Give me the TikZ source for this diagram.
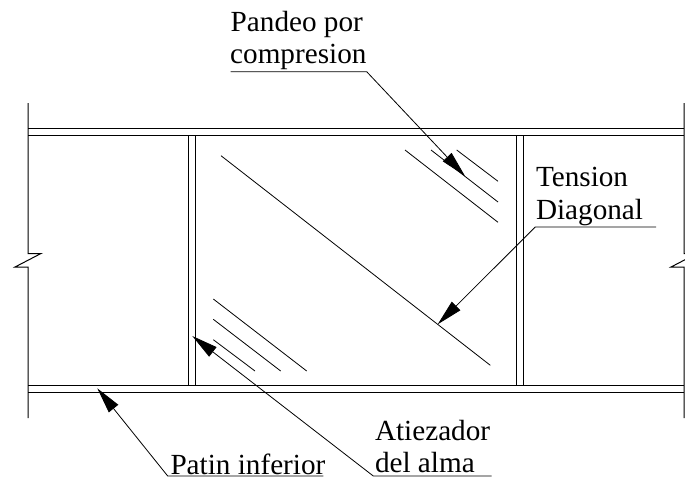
\documentclass[tikz,border=0pt]{standalone}
\usepackage{fontspec}
\setmainfont{Liberation Serif}
\usetikzlibrary{arrows.meta}
\tikzset{
  ln/.style={line width=1pt,black},
  thin ln/.style={line width=0.8pt,black},
  leader/.style={line width=0.8pt,black,-{Triangle[length=26pt,width=12pt]}},
  lbl/.style={anchor=base west,inner sep=0pt,outer sep=0pt,font=\fontsize{29.2}{33}\selectfont,align=left,text=black},
}
\begin{document}
\begin{tikzpicture}[x=1pt,y=-1pt]
\useasboundingbox (0,0) rectangle (685,477);
% outer edges with break marks
\draw[ln] (28,103) -- (28,253.5) -- (41,253.5) -- (15,267) -- (28,267) -- (28,418);
\begin{scope}
\clip (0,0) rectangle (685,477);
\draw[ln] (684,103) -- (684,253.5) -- (697,253.5) -- (671,267) -- (684,267) -- (684,418);
\end{scope}
% flanges
\draw[ln] (28,128.5) -- (684,128.5);
\draw[ln] (28,135.5) -- (684,135.5);
\draw[ln] (28,385.5) -- (684,385.5);
\draw[ln] (28,392.5) -- (684,392.5);
% stiffeners
\draw[ln] (188.5,135.5) -- (188.5,385.5);
\draw[ln] (195.3,135.5) -- (195.3,385.5);
\draw[ln] (516.5,135.5) -- (516.5,385.5);
\draw[ln] (523.3,135.5) -- (523.3,385.5);
% diagonal fold lines
\draw[thin ln] (221,155.7) -- (490.3,365.3);
\draw[thin ln] (405,150) -- (498,222.3);
\draw[thin ln] (431,150) -- (498,202);
\draw[thin ln] (456.7,150) -- (498,181.3);
\draw[thin ln] (213.3,299) -- (306.7,371);
\draw[thin ln] (213.3,319.3) -- (280.7,371);
\draw[thin ln] (213.3,339.7) -- (255,371);
% labels
\node[lbl] (pandeo) at (230.7,31.7) {Pandeo por};
\node[lbl] (compresion) at (230.2,63.3) {compresion};
\node[lbl] (tension) at (536,186) {Tension};
\node[lbl] (diagonal) at (536,219.3) {Diagonal};
\node[lbl] (patin) at (170.5,474) {Patin inferior};
\node[lbl] (atiezador) at (375,440) {Atiezador};
\node[lbl] (delalma) at (375,472.7) {del alma};
% leader points
\coordinate (p0) at (230.7,71.7);
\coordinate (p1) at (366.7,71.7);
\coordinate (p2) at (465,176);
\coordinate (t0) at (656,227);
\coordinate (t1) at (535.3,227);
\coordinate (t2) at (437.7,324.3);
\coordinate (a0) at (491.7,476);
\coordinate (a1) at (373.3,476);
\coordinate (a2) at (192.3,336);
\coordinate (i0) at (323.3,476);
\coordinate (i1) at (167.7,476);
\coordinate (i2) at (97.3,388.3);
\draw[leader] (p0) -- (p1) -- (p2);
\draw[leader] (t0) -- (t1) -- (t2);
\draw[leader] (a0) -- (a1) -- (a2);
\draw[leader] (i0) -- (i1) -- (i2);
\end{tikzpicture}
\end{document}
